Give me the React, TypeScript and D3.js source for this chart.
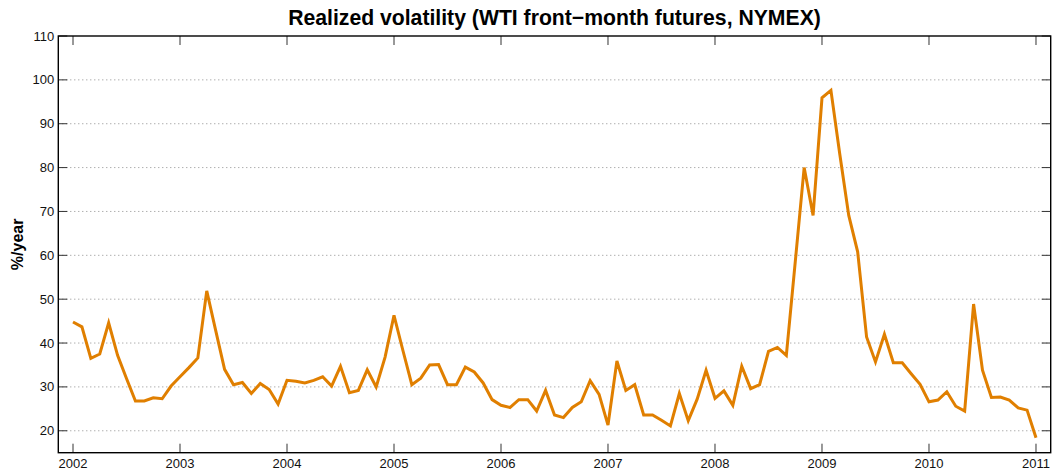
import React from "react";
import * as d3 from "d3";

const startYear = 2002;
const vol2002 = [44.8, 43.7, 36.5, 37.5, 44.6, 37.2, 31.9, 26.8, 26.8, 27.5, 27.3, 30.2];
const vol2003 = [32.3, 34.4, 36.6, 51.9, 42.9, 34.0, 30.5, 31.0, 28.5, 30.8, 29.4, 26.1];
const vol2004 = [31.5, 31.3, 30.9, 31.5, 32.3, 30.2, 34.7, 28.7, 29.2, 33.9, 30.0, 36.8];
const vol2005 = [46.3, 38.3, 30.5, 32.0, 35.0, 35.1, 30.5, 30.5, 34.5, 33.4, 30.9, 27.1];
const vol2006 = [25.8, 25.3, 27.1, 27.1, 24.5, 29.2, 23.6, 23.0, 25.3, 26.6, 31.4, 28.3];
const vol2007 = [21.3, 35.9, 29.2, 30.5, 23.6, 23.6, 22.4, 21.1, 28.5, 22.3, 27.2, 33.8];
const vol2008 = [27.4, 29.1, 25.8, 34.7, 29.6, 30.5, 38.1, 39.0, 37.2, 58.5, 80.0, 69.1];
const vol2009 = [95.9, 97.6, 83.0, 69.1, 60.8, 41.4, 35.7, 42.0, 35.5, 35.5, 33.0, 30.6];
const vol2010 = [26.6, 27.0, 28.9, 25.6, 24.5, 48.9, 33.8, 27.6, 27.7, 27.0, 25.2, 24.7];
const vol2011 = [18.4];

const values = [
  ...vol2002, ...vol2003, ...vol2004, ...vol2005, ...vol2006,
  ...vol2007, ...vol2008, ...vol2009, ...vol2010, ...vol2011,
];

const xTicks = [2002, 2003, 2004, 2005, 2006, 2007, 2008, 2009, 2010, 2011];
const yTicks = [20, 30, 40, 50, 60, 70, 80, 90, 100, 110];
const gridValues = [20, 30, 40, 50, 60, 70, 80, 90, 100];

const title = "Realized volatility (WTI front\u2212month futures, NYMEX)";
const yLabel = "%/year";

export default function App() {
  const W = 1053, H = 472;
  const left = 58.3, right = 1050.7, top = 36, bottom = 452.7;
  const x = d3.scaleLinear().domain([2002 - 0.1374, 2011 + 0.1374]).range([left, right]);
  const y = d3.scaleLinear().domain([15, 110]).range([bottom, top]);
  const data = values.map((v, i) => ({ t: startYear + i / 12, v }));
  const line = d3.line<{ t: number; v: number }>().x(d => x(d.t)).y(d => y(d.v));
  const font = "'Liberation Sans', Arial, Helvetica, sans-serif";
  const tickLen = 9;
  return (
    <svg width={W} height={H} style={{ position: "absolute", left: 0, top: 0, background: "#fff" }} fontFamily={font}>
      {gridValues.map(g => (
        <line key={"g" + g} x1={left} x2={right} y1={y(g)} y2={y(g)} stroke="#8c8c8c" strokeWidth={1} strokeDasharray="1,3" />
      ))}
      <path d={line(data) || ""} fill="none" stroke="#E07F00" strokeWidth={3} strokeLinejoin="miter" />
      {yTicks.map(t => (
        <g key={"y" + t}>
          <line x1={left} x2={left + tickLen} y1={y(t)} y2={y(t)} stroke="#333" strokeWidth={1} />
          <line x1={right} x2={right - tickLen} y1={y(t)} y2={y(t)} stroke="#333" strokeWidth={1} />
          <text x={left - 4} y={y(t)} dy="0.35em" textAnchor="end" fontSize={13} fill="#111">{t}</text>
        </g>
      ))}
      {xTicks.map(t => (
        <g key={"x" + t}>
          <line x1={x(t)} x2={x(t)} y1={bottom} y2={bottom - tickLen} stroke="#333" strokeWidth={1} />
          <line x1={x(t)} x2={x(t)} y1={top} y2={top + tickLen} stroke="#333" strokeWidth={1} />
          <text x={x(t)} y={bottom + 15} textAnchor="middle" fontSize={13} fill="#111">{t}</text>
        </g>
      ))}
      <rect x={left} y={top} width={right - left} height={bottom - top} fill="none" stroke="#000" strokeWidth={1.4} />
      <text x={(left + right) / 2} y={24.5} textAnchor="middle" fontSize={21.2} fontWeight="bold" fill="#000">{title}</text>
      <text transform={`translate(23,${(top + bottom) / 2}) rotate(-90)`} textAnchor="middle" fontSize={16} fontWeight="bold" fill="#000">{yLabel}</text>
    </svg>
  );
}
